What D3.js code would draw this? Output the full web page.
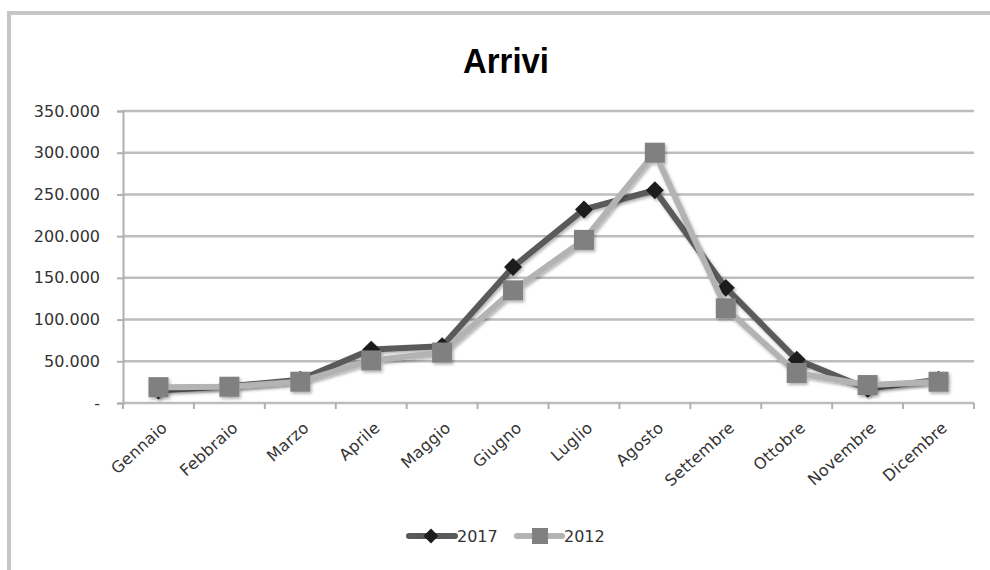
<!DOCTYPE html>
<html><head><meta charset="utf-8">
<script src="https://cdn.jsdelivr.net/npm/d3@7"></script>
<style>body{margin:0;background:#fff}svg{display:block}</style>
</head><body>
<svg id="c" width="990" height="570"></svg>
<script>
const months = ["Gennaio","Febbraio","Marzo","Aprile","Maggio","Giugno","Luglio","Agosto","Settembre","Ottobre","Novembre","Dicembre"];
const values2017 = [15000,20000,28000,64000,68000,163000,232000,255000,138000,52000,17000,28000];
const values2012 = [19000,19500,25500,51000,60500,135000,195500,300000,113500,36000,21500,25500];
const yTickValues = [0,50000,100000,150000,200000,250000,300000,350000];
const yTickLabels = ["-","50.000","100.000","150.000","200.000","250.000","300.000","350.000"];
const seriesNames = ["2017","2012"];
const title = "Arrivi";

const svg = d3.select("#c");
const defs = svg.append("defs");
const f = defs.append("filter").attr("id","sh").attr("x","-50%").attr("y","-50%").attr("width","200%").attr("height","200%");
f.append("feDropShadow").attr("dx",1.5).attr("dy",2).attr("stdDeviation",1.5).attr("flood-color","#000").attr("flood-opacity",0.3);

// frame
svg.append("path").attr("d","M9,570 V13 H990").attr("fill","none").attr("stroke","#c6c6c6").attr("stroke-width",4);

const x = d3.scaleBand().domain(months).range([123,974]);
const y = d3.scaleLinear().domain([0,350000]).range([403,111]);

// title
svg.append("text").attr("x",506).attr("y",73).attr("text-anchor","middle")
  .attr("font-family","Liberation Sans, Arial, sans-serif").attr("font-weight","bold")
  .attr("font-size",35).attr("fill","#000").attr("textLength",86).attr("lengthAdjust","spacingAndGlyphs").text(title);

// gridlines
svg.append("g").selectAll("line").data(yTickValues).join("line")
  .attr("x1",123).attr("x2",974).attr("y1",d=>y(d)).attr("y2",d=>y(d))
  .attr("stroke","#bdbdbd").attr("stroke-width",2.5);

// y axis
const yAxis = d3.axisLeft(y).tickValues(yTickValues).tickFormat((d,i)=>yTickLabels[i]).tickSize(6).tickPadding(17);
const gy = svg.append("g").attr("transform","translate(123,0)").call(yAxis);
gy.select(".domain").attr("stroke","#b0b0b0").attr("stroke-width",2);
gy.selectAll(".tick line").attr("stroke","#b0b0b0").attr("stroke-width",2);
gy.selectAll("text").attr("font-family","DejaVu Sans, sans-serif").attr("font-size",16).attr("fill","#333");

// x axis ticks at band boundaries
const bounds = months.map(m=>x(m)).concat([x.range()[1]]);
svg.append("g").selectAll("line").data(bounds).join("line")
  .attr("x1",d=>d).attr("x2",d=>d).attr("y1",403).attr("y2",409)
  .attr("stroke","#b0b0b0").attr("stroke-width",2);

// x labels
svg.append("g").selectAll("text").data(months).join("text")
  .attr("transform",d=>`translate(${x(d)+x.bandwidth()/2+6},${425}) rotate(-42)`)
  .attr("text-anchor","end").attr("dy","0.35em")
  .attr("font-family","DejaVu Sans, sans-serif").attr("font-size",16).attr("letter-spacing",0.3).attr("fill","#333")
  .text(d=>d);

const cx = d=>x(d)+x.bandwidth()/2;
const line = d3.line().x((d,i)=>cx(months[i])).y(d=>y(d));
const diamond = d3.symbol().type(d3.symbolSquare).size(160);

// 2017
const g17 = svg.append("g").attr("filter","url(#sh)");
g17.append("path").datum(values2017).attr("d",line).attr("fill","none").attr("stroke","#5a5a5a").attr("stroke-width",6).attr("stroke-linejoin","round");
g17.selectAll("path.m").data(values2017).join("path").attr("class","m")
  .attr("d",diamond).attr("transform",(d,i)=>`translate(${cx(months[i])},${y(d)}) rotate(45)`)
  .attr("fill","#1c1c1c");

// 2012
const g12 = svg.append("g").attr("filter","url(#sh)");
g12.append("path").datum(values2012).attr("d",line).attr("fill","none").attr("stroke","#b3b3b3").attr("stroke-width",6).attr("stroke-linejoin","round");
g12.selectAll("rect").data(values2012).join("rect")
  .attr("x",(d,i)=>cx(months[i])-10).attr("y",d=>y(d)-10).attr("width",20).attr("height",20)
  .attr("fill","#808080");

// legend
const lg = svg.append("g");
const ly = 536;
lg.append("line").attr("x1",409).attr("x2",455).attr("y1",ly).attr("y2",ly).attr("stroke","#5a5a5a").attr("stroke-width",6).attr("stroke-linecap","round");
lg.append("path").attr("d",d3.symbol().type(d3.symbolSquare).size(110)).attr("transform",`translate(431,${ly}) rotate(45)`).attr("fill","#1c1c1c");
lg.append("text").attr("x",457).attr("y",ly).attr("dy","0.36em").attr("font-family","DejaVu Sans, sans-serif").attr("font-size",16).attr("fill","#333").text(seriesNames[0]);
lg.append("line").attr("x1",517).attr("x2",562).attr("y1",ly).attr("y2",ly).attr("stroke","#b3b3b3").attr("stroke-width",6).attr("stroke-linecap","round");
lg.append("rect").attr("x",532).attr("y",ly-8).attr("width",16).attr("height",16).attr("fill","#808080");
lg.append("text").attr("x",564).attr("y",ly).attr("dy","0.36em").attr("font-family","DejaVu Sans, sans-serif").attr("font-size",16).attr("fill","#333").text(seriesNames[1]);
</script>
</body></html>
